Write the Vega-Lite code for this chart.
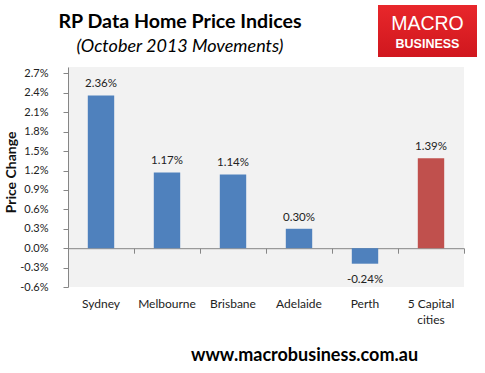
{
  "$schema": "https://vega.github.io/schema/vega-lite/v6.json",
  "padding": {"left": 4, "top": 5, "right": 4, "bottom": 2},
  "background": "white",
  "spacing": 10,
  "config": {
    "view": {"stroke": null},
    "font": "Lato",
    "locale": {"number": {"decimal": ".", "thousands": ",", "grouping": [3], "currency": ["$", ""], "minus": "-"}}
  },
  "vconcat": [
    {
      "spacing": 20,
      "bounds": "flush",
      "hconcat": [
        {
          "width": 290,
          "height": 52,
          "data": {"values": [
            {"line": "RP Data Home Price Indices", "k": "title"},
            {"line": "(October 2013 Movements)", "k": "subtitle"}
          ]},
          "encoding": {
            "y": {"field": "k", "type": "nominal", "scale": {"type": "point", "domain": ["title", "subtitle"], "padding": 0.583}, "axis": null},
            "text": {"field": "line"}
          },
          "layer": [
            {"transform": [{"filter": "datum.k === 'title'"}], "mark": {"type": "text", "font": "Lato", "fontWeight": "bold", "fontSize": 19.6, "baseline": "alphabetic", "dy": 9, "dx": -33, "color": "#000000"}},
            {"transform": [{"filter": "datum.k === 'subtitle'"}], "mark": {"type": "text", "font": "Lato", "fontStyle": "italic", "fontSize": 18, "baseline": "alphabetic", "dy": 9, "dx": -33, "color": "#000000"}}
          ]
        },
        {
          "width": 99,
          "height": 52,
          "view": {"fill": {"gradient": "linear", "x1": 0, "y1": 0, "x2": 0, "y2": 1, "stops": [{"offset": 0, "color": "#E8272B"}, {"offset": 1, "color": "#D0171E"}]}, "stroke": null},
          "data": {"values": [{"t": "MACRO"}, {"t": "BUSINESS"}]},
          "encoding": {
            "y": {"field": "t", "type": "nominal", "scale": {"type": "point", "domain": ["MACRO", "BUSINESS"], "padding": 1.357}, "axis": null},
            "text": {"field": "t"}
          },
          "layer": [
            {"transform": [{"filter": "datum.t === 'MACRO'"}], "mark": {"type": "text", "font": "Liberation Sans", "fontSize": 19.5, "color": "#FFFFFF", "baseline": "alphabetic", "dy": 8}},
            {"transform": [{"filter": "datum.t === 'BUSINESS'"}], "mark": {"type": "text", "font": "Liberation Sans", "fontSize": 12.5, "fontWeight": "bold", "color": "#FFFFFF", "baseline": "alphabetic", "dy": 8}}
          ]
        }
      ]
    },
    {
      "width": 396,
      "height": 220,
      "view": {"fill": "#F2F2F2", "stroke": null},
      "data": {"values": [
        {"city": "Sydney", "change": 0.0236, "type": "city"},
        {"city": "Melbourne", "change": 0.0117, "type": "city"},
        {"city": "Brisbane", "change": 0.0114, "type": "city"},
        {"city": "Adelaide", "change": 0.0030, "type": "city"},
        {"city": "Perth", "change": -0.0024, "type": "city"},
        {"city": "5 Capital cities", "change": 0.0139, "type": "all"}
      ]},
      "encoding": {
        "y": {
          "field": "change",
          "type": "quantitative",
          "scale": {"domain": [-0.006, 0.028], "nice": false, "zero": false},
          "axis": {
            "values": [-0.006, -0.003, 0, 0.003, 0.006, 0.009, 0.012, 0.015, 0.018, 0.021, 0.024, 0.027],
            "format": ".1%",
            "grid": false,
            "domainColor": "#868686",
            "tickColor": "#868686",
            "tickSize": 5,
            "labelPadding": 15,
            "labelFont": "Lato",
            "labelFontSize": 11,
            "labelColor": "#222222",
            "title": "Price Change",
            "titleFont": "Lato",
            "titleFontSize": 14,
            "titleFontWeight": "bold",
            "titleColor": "#111111",
            "titlePadding": 1,
            "titleY": 105
          }
        }
      },
      "layer": [
        {
          "mark": {"type": "bar", "width": {"band": 0.4}},
          "encoding": {
            "x": {
              "field": "city", "type": "nominal", "sort": null,
              "scale": {"domain": ["Sydney", "Melbourne", "Brisbane", "Adelaide", "Perth", "5 Capital cities"], "paddingInner": 0, "paddingOuter": 0},
              "axis": {
                "orient": "bottom",
                "domain": false,
                "ticks": false,
                "labelPadding": 11,
                "labelAngle": 0,
                "labelFont": "Lato",
                "labelFontSize": 12,
                "labelColor": "#222222",
                "labelExpr": "datum.label === '5 Capital cities' ? ['5 Capital', 'cities'] : datum.label",
                "labelLineHeight": 16,
                "title": "www.macrobusiness.com.au",
                "titleFont": "Lato",
                "titleFontSize": 18,
                "titleFontWeight": "bold",
                "titleColor": "#000000",
                "titleX": 236,
                "titleY": 73,
                "titleAlign": "center",
                "titleBaseline": "alphabetic"
              }
            },
            "color": {"field": "type", "type": "nominal", "scale": {"domain": ["city", "all"], "range": ["#4F81BD", "#C0504D"]}, "legend": null}
          }
        },
        {
          "transform": [{"filter": "datum.change >= 0"}],
          "mark": {"type": "text", "baseline": "alphabetic", "dy": -8, "font": "Lato", "fontSize": 11.5, "color": "#222222"},
          "encoding": {
            "x": {"field": "city", "type": "nominal", "sort": null, "axis": null},
            "text": {"field": "change", "type": "quantitative", "format": ".2%"}
          }
        },
        {
          "transform": [{"filter": "datum.change < 0"}],
          "mark": {"type": "text", "baseline": "alphabetic", "dy": 19, "font": "Lato", "fontSize": 11.5, "color": "#222222"},
          "encoding": {
            "x": {
              "field": "city", "type": "nominal", "sort": null,
              "axis": {
                "orient": "bottom",
                "offset": -38.8,
                "labels": false,
                "title": null,
                "domainColor": "#868686",
                "tickColor": "#868686",
                "tickSize": 5,
                "tickBand": "extent"
              }
            },
            "text": {"field": "change", "type": "quantitative", "format": ".2%"}
          }
        }
      ],
      "resolve": {"axis": {"x": "independent"}}
    }
  ]
}
